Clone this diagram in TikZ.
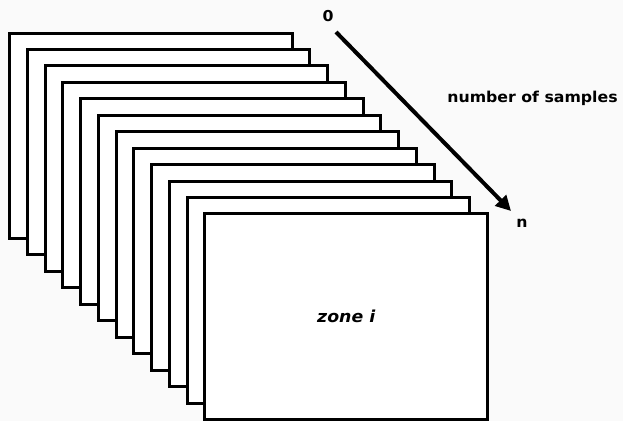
\documentclass[tikz,border=0pt]{standalone}
\usepackage{fontspec}
\setmainfont{DejaVu Sans}
\newfontfamily\labelfont[FakeStretch=1.05]{DejaVu Sans}
\usetikzlibrary{arrows.meta}
\definecolor{paper}{RGB}{250,250,250}
\begin{document}
\begin{tikzpicture}[x=1pt,y=-1pt,
  card/.style={draw=black, fill=white, line width=3pt, minimum width=282.5pt,
    minimum height=205.5pt, inner sep=0pt, outer sep=0pt},
  lbl/.style={font=\labelfont\bfseries\fontsize{15}{17}\selectfont, inner sep=0pt}]
  % page and background
  \fill[paper] (0,0) rectangle (623,421);
  \useasboundingbox (0,0) rectangle (623,421);
  % stack of zone sheets, back to front
  \foreach \i in {0,...,11}{
    \node[card] (z\i) at ({150.75+17.77*\i},{135.75+16.45*\i}) {};
  }
  \node[lbl, font=\labelfont\bfseries\itshape\fontsize{16.5}{18}\selectfont] (zone) at (z11.center) {zone i};
  % sample-count axis
  \node[lbl] (zero) at (328,16) {0};
  \node[lbl] (nn) at (522,223) {n};
  \node[lbl] (title) at (532.5,98) {number of samples};
  \coordinate (a0) at (336,32);
  \coordinate (a1) at (511,211);
  \draw[line width=4pt, -{Triangle[length=15pt,width=15pt]}] (a0) -- (a1);
\end{tikzpicture}
\end{document}
